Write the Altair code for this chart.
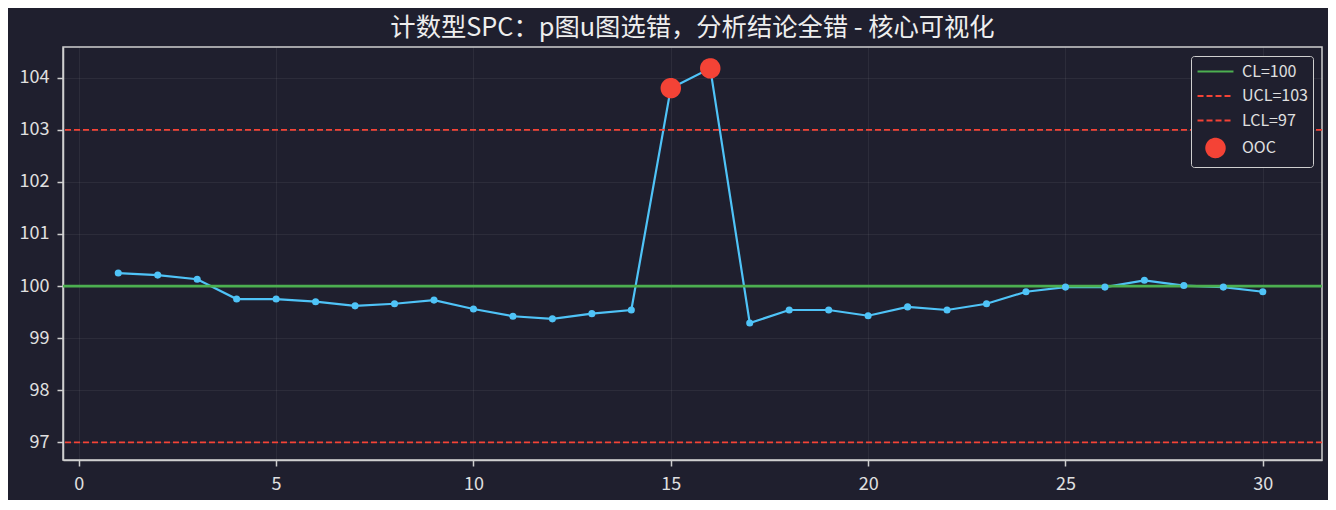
import altair as alt
import pandas as pd

# ---- data ----
samples = list(range(1, 31))
values = [100.25, 100.21, 100.13, 99.75, 99.75, 99.70, 99.62, 99.66, 99.73, 99.56,
          99.42, 99.37, 99.47, 99.54, 103.80, 104.18, 99.29, 99.54, 99.54, 99.43,
          99.60, 99.54, 99.66, 99.89, 99.98, 99.98, 100.11, 100.01, 99.98, 99.89]
ooc_samples = [15, 16]
limit_names = ["CL=100", "UCL=103", "LCL=97"]
limit_values = [100, 103, 97]
legend_names = ["CL=100", "UCL=103", "LCL=97", "OOC"]
x_ticks = [0, 5, 10, 15, 20, 25, 30]
y_ticks = [97, 98, 99, 100, 101, 102, 103, 104]
title_text = "计数型SPC：p图u图选错，分析结论全错 - 核心可视化"

BG = "#1f1f2e"
BLUE = "#4fc3f7"
GREEN = "#4caf50"
RED = "#f44336"
AXIS = "#cfcfcf"
TXT = "#e0e0e0"
FONT = "Noto Sans CJK SC"

SOLID = [1, 0]
DASH = [6, 3]

df = pd.DataFrame({"x": samples, "y": values})
ooc = df[df["x"].isin(ooc_samples)].assign(series="OOC")
limits = pd.DataFrame({
    "series": limit_names,
    "y": limit_values,
    "sw": [2.8, 1.8, 1.8],
    "col": [GREEN, RED, RED],
    "dash": [SOLID, DASH, DASH],
})

xs = alt.Scale(domain=[-0.4, 31.5], nice=False, zero=False)
ys = alt.Scale(domain=[96.66, 104.59], nice=False, zero=False)

LINE_PATH = "M-1.95,0H1.95"
color_scale = alt.Scale(domain=legend_names, range=[GREEN, RED, RED, RED])
fill_scale = alt.Scale(domain=legend_names, range=["transparent", "transparent", "transparent", RED])
dash_scale = alt.Scale(domain=legend_names, range=[SOLID, DASH, DASH, SOLID])
shape_scale = alt.Scale(domain=legend_names, range=[LINE_PATH, LINE_PATH, LINE_PATH, "circle"])

legend = alt.Legend(
    title=None,
    orient="top-right",
    offset=9,
    padding=5,
    strokeColor=AXIS,
    fillColor=BG,
    cornerRadius=3,
    labelColor=TXT,
    labelFont=FONT,
    labelFontSize=16,
    labelOffset=16,
    rowPadding=5.5,
    symbolOffset=9,
    symbolSize=340,
    symbolStrokeWidth=2,
    symbolOpacity=1,
)

x_axis = alt.Axis(values=x_ticks, title=None, labelPadding=9, labelFontSize=18,
                  labelFont=FONT, tickSize=6)
y_axis = alt.Axis(values=y_ticks, title=None, labelPadding=8, labelFontSize=18,
                  labelFont=FONT, tickSize=6)
X = alt.X("x:Q", scale=xs, axis=x_axis)
Y = alt.Y("y:Q", scale=ys, axis=y_axis)

line = alt.Chart(df).mark_line(color=BLUE, strokeWidth=2.2).encode(x=X, y=Y)
pts = alt.Chart(df).mark_circle(color=BLUE, size=50, opacity=1).encode(x=X, y=Y)

rules = alt.Chart(limits).mark_rule().encode(
    y=Y,
    color=alt.Color("col:N", scale=None),
    strokeDash=alt.StrokeDash("dash", scale=None),
    strokeWidth=alt.StrokeWidth("sw:Q", scale=None),
)

ooc_pts = alt.Chart(ooc).mark_point(filled=False, strokeWidth=2, opacity=1, size=340).encode(
    x=X,
    y=Y,
    color=alt.Color("series:N", scale=color_scale, legend=legend),
    fill=alt.Fill("series:N", scale=fill_scale, legend=legend),
    shape=alt.Shape("series:N", scale=shape_scale, legend=legend),
    strokeDash=alt.StrokeDash("series:N", scale=dash_scale, legend=legend),
)

chart = alt.layer(line, rules, pts, ooc_pts).properties(
    width=1259,
    height=413,
    autosize=alt.AutoSizeParams(type="none"),
    padding={"left": 55, "top": 39, "right": 6, "bottom": 40},
    background=BG,
    title=alt.TitleParams(
        text=title_text,
        color="#eeeeee",
        font=FONT,
        fontSize=25.3,
        fontWeight="normal",
        offset=6,
        anchor="middle",
    ),
).configure_view(
    stroke=AXIS,
    strokeWidth=1.5,
    fill=BG,
).configure_axis(
    domainColor=AXIS,
    domainWidth=1.5,
    tickColor=AXIS,
    tickWidth=1.5,
    tickSize=6,
    labelColor=TXT,
    labelFont=FONT,
    labelFontSize=18,
    grid=True,
    gridColor="#ffffff",
    gridOpacity=0.06,
    gridWidth=1,
).configure_axisX(
    labelFontSize=18,
    labelPadding=9,
).configure_axisY(
    labelFontSize=18,
    labelPadding=8,
)

chart.save("out.html", embed_options={"renderer": "svg", "actions": False})
